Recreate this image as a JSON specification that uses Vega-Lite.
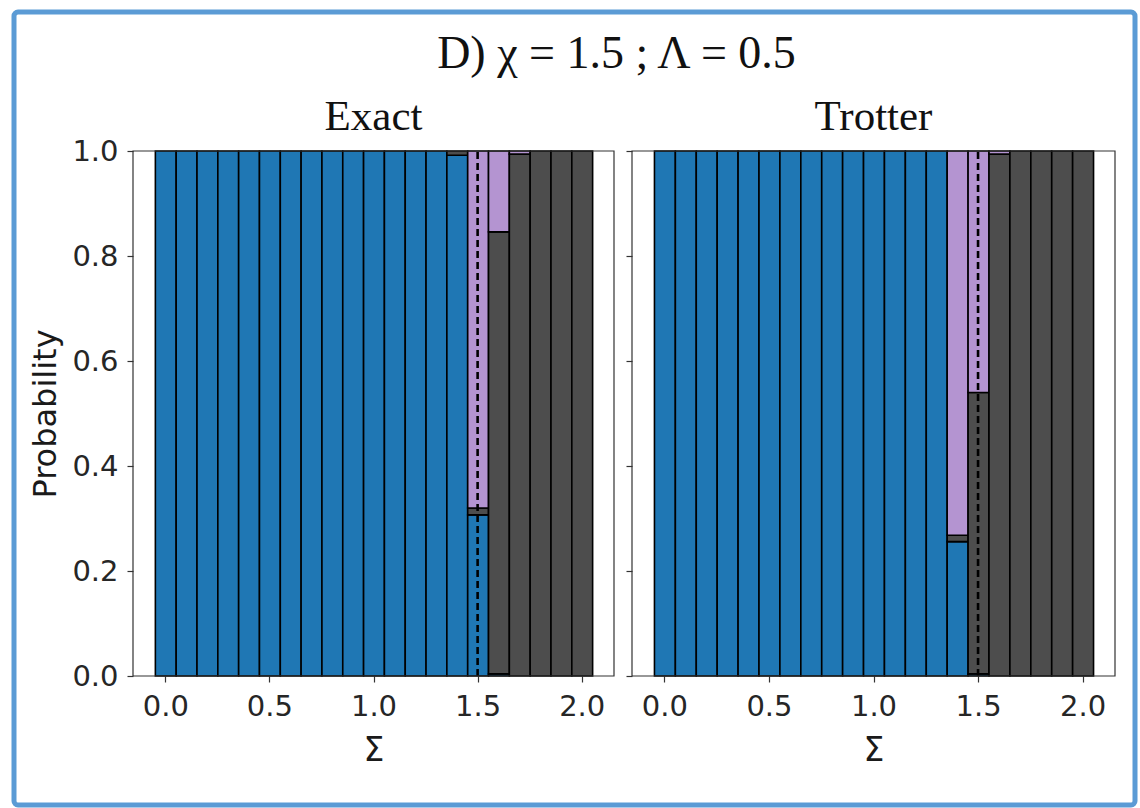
{
  "$schema": "https://vega.github.io/schema/vega-lite/v6.json",
  "background": "white",
  "autosize": {"type": "none"},
  "padding": {"left": 14, "top": 12, "right": 5, "bottom": 3},
  "width": 1121,
  "height": 793,
  "view": {"stroke": "#5b9bd5", "strokeWidth": 5, "cornerRadius": 4, "fill": "white"},
  "title": {"text": "D)  χ = 1.5 ; Λ = 0.5", "frame": "group", "anchor": "middle", "orient": "top", "offset": -102, "baseline": "alphabetic", "dx": 42, "font": "Liberation Serif", "fontSize": 46, "fontWeight": "normal", "color": "#111"},
  "datasets": {
    "exact": [
      {"sigma": 0.0, "state": "a", "p": 1}, {"sigma": 0.1, "state": "a", "p": 1}, {"sigma": 0.2, "state": "a", "p": 1},
      {"sigma": 0.3, "state": "a", "p": 1}, {"sigma": 0.4, "state": "a", "p": 1}, {"sigma": 0.5, "state": "a", "p": 1},
      {"sigma": 0.6, "state": "a", "p": 1}, {"sigma": 0.7, "state": "a", "p": 1}, {"sigma": 0.8, "state": "a", "p": 1},
      {"sigma": 0.9, "state": "a", "p": 1}, {"sigma": 1.0, "state": "a", "p": 1}, {"sigma": 1.1, "state": "a", "p": 1},
      {"sigma": 1.2, "state": "a", "p": 1}, {"sigma": 1.3, "state": "a", "p": 1},
      {"sigma": 1.4, "state": "a", "p": 0.992}, {"sigma": 1.4, "state": "b", "p": 0.008},
      {"sigma": 1.5, "state": "a", "p": 0.307}, {"sigma": 1.5, "state": "b", "p": 0.013}, {"sigma": 1.5, "state": "c", "p": 0.68},
      {"sigma": 1.6, "state": "a", "p": 0.004}, {"sigma": 1.6, "state": "b", "p": 0.842}, {"sigma": 1.6, "state": "c", "p": 0.154},
      {"sigma": 1.7, "state": "b", "p": 0.994}, {"sigma": 1.7, "state": "c", "p": 0.006},
      {"sigma": 1.8, "state": "b", "p": 1}, {"sigma": 1.9, "state": "b", "p": 1}, {"sigma": 2.0, "state": "b", "p": 1}
    ],
    "trotter": [
      {"sigma": 0.0, "state": "a", "p": 1}, {"sigma": 0.1, "state": "a", "p": 1}, {"sigma": 0.2, "state": "a", "p": 1},
      {"sigma": 0.3, "state": "a", "p": 1}, {"sigma": 0.4, "state": "a", "p": 1}, {"sigma": 0.5, "state": "a", "p": 1},
      {"sigma": 0.6, "state": "a", "p": 1}, {"sigma": 0.7, "state": "a", "p": 1}, {"sigma": 0.8, "state": "a", "p": 1},
      {"sigma": 0.9, "state": "a", "p": 1}, {"sigma": 1.0, "state": "a", "p": 1}, {"sigma": 1.1, "state": "a", "p": 1},
      {"sigma": 1.2, "state": "a", "p": 1}, {"sigma": 1.3, "state": "a", "p": 1},
      {"sigma": 1.4, "state": "a", "p": 0.256}, {"sigma": 1.4, "state": "b", "p": 0.012}, {"sigma": 1.4, "state": "c", "p": 0.732},
      {"sigma": 1.5, "state": "a", "p": 0.004}, {"sigma": 1.5, "state": "b", "p": 0.536}, {"sigma": 1.5, "state": "c", "p": 0.46},
      {"sigma": 1.6, "state": "b", "p": 0.994}, {"sigma": 1.6, "state": "c", "p": 0.006},
      {"sigma": 1.7, "state": "b", "p": 1}, {"sigma": 1.8, "state": "b", "p": 1}, {"sigma": 1.9, "state": "b", "p": 1}, {"sigma": 2.0, "state": "b", "p": 1}
    ],
    "chi": [{"chi": 1.5}],
    "titleExact": [{"panel": "Exact"}],
    "titleTrotter": [{"panel": "Trotter"}]
  },
  "config": {
    "axis": {
      "labelFont": "DejaVu Sans", "labelFontSize": 29, "labelColor": "#262626",
      "titleFont": "DejaVu Sans", "titleFontWeight": "normal", "titleColor": "#1a1a1a",
      "tickColor": "#333", "tickWidth": 1.2, "tickSize": 6, "domain": false, "grid": false,
      "labelFlush": false, "labelOverlap": false
    }
  },
  "resolve": {"scale": {"x": "independent", "y": "independent"}},
  "layer": [
    {
      "layer": [
        {
          "data": {"name": "exact"},
          "mark": {"type": "bar", "stroke": "black", "strokeWidth": 1.6, "binSpacing": 0},
          "encoding": {
            "x": {"field": "sigma", "type": "quantitative", "bin": {"step": 0.1, "anchor": -0.05, "extent": [-0.05, 2.05], "nice": false},
                  "scale": {"domain": [-0.155, 2.155], "range": [119, 600], "nice": false, "zero": false},
                  "axis": {"orient": "bottom", "offset": -129, "values": [0, 0.5, 1, 1.5, 2], "format": ".1f", "formatType": "number", "title": "Σ", "titleFontSize": 33, "titlePadding": 13, "labelPadding": 10}},
            "y": {"aggregate": "sum", "field": "p", "type": "quantitative", "stack": true,
                  "scale": {"domain": [0, 1], "range": [664, 139], "nice": false, "zero": false},
                  "axis": {"orient": "left", "offset": -119, "values": [0, 0.2, 0.4, 0.6, 0.8, 1], "format": ".1f", "title": "Probability", "titleFontSize": 32, "titlePadding": 9, "labelPadding": 9}},
            "color": {"field": "state", "type": "nominal", "scale": {"domain": ["a", "b", "c"], "range": ["#1f77b4", "#4d4d4d", "#b494d1"]}, "legend": null},
            "order": {"field": "state", "type": "ordinal", "sort": "ascending"}
          }
        },
        {
          "data": {"name": "chi"},
          "mark": {"type": "rule", "strokeDash": [7, 4], "strokeWidth": 2.6, "color": "black"},
          "encoding": {
            "x": {"field": "chi", "type": "quantitative"},
            "y": {"datum": 0, "type": "quantitative"},
            "y2": {"datum": 1}
          }
        },
        {
          "data": {"name": "chi"},
          "mark": {"type": "rect", "fill": null, "stroke": "#333", "strokeWidth": 1.2},
          "encoding": {
            "x": {"datum": -0.155, "type": "quantitative"},
            "x2": {"datum": 2.155},
            "y": {"datum": 0, "type": "quantitative"},
            "y2": {"datum": 1}
          }
        },
        {
          "data": {"name": "titleExact"},
          "mark": {"type": "text", "font": "Liberation Serif", "fontSize": 43, "color": "#111", "baseline": "alphabetic", "align": "center", "dy": -21},
          "encoding": {
            "x": {"datum": 1, "type": "quantitative"},
            "y": {"datum": 1, "type": "quantitative"},
            "text": {"field": "panel", "type": "nominal"}
          }
        }
      ]
    },
    {
      "layer": [
        {
          "data": {"name": "trotter"},
          "mark": {"type": "bar", "stroke": "black", "strokeWidth": 1.6, "binSpacing": 0},
          "encoding": {
            "x": {"field": "sigma", "type": "quantitative", "bin": {"step": 0.1, "anchor": -0.05, "extent": [-0.05, 2.05], "nice": false},
                  "scale": {"domain": [-0.155, 2.155], "range": [618, 1101], "nice": false, "zero": false},
                  "axis": {"orient": "bottom", "offset": -129, "values": [0, 0.5, 1, 1.5, 2], "format": ".1f", "formatType": "number", "title": "Σ", "titleFontSize": 33, "titlePadding": 13, "labelPadding": 10}},
            "y": {"aggregate": "sum", "field": "p", "type": "quantitative", "stack": true,
                  "scale": {"domain": [0, 1], "range": [664, 139], "nice": false, "zero": false},
                  "axis": {"orient": "left", "offset": -618, "values": [0, 0.2, 0.4, 0.6, 0.8, 1], "labels": false, "title": null}},
            "color": {"field": "state", "type": "nominal", "scale": {"domain": ["a", "b", "c"], "range": ["#1f77b4", "#4d4d4d", "#b494d1"]}, "legend": null},
            "order": {"field": "state", "type": "ordinal", "sort": "ascending"}
          }
        },
        {
          "data": {"name": "chi"},
          "mark": {"type": "rule", "strokeDash": [7, 4], "strokeWidth": 2.6, "color": "black"},
          "encoding": {
            "x": {"field": "chi", "type": "quantitative"},
            "y": {"datum": 0, "type": "quantitative"},
            "y2": {"datum": 1}
          }
        },
        {
          "data": {"name": "chi"},
          "mark": {"type": "rect", "fill": null, "stroke": "#333", "strokeWidth": 1.2},
          "encoding": {
            "x": {"datum": -0.155, "type": "quantitative"},
            "x2": {"datum": 2.155},
            "y": {"datum": 0, "type": "quantitative"},
            "y2": {"datum": 1}
          }
        },
        {
          "data": {"name": "titleTrotter"},
          "mark": {"type": "text", "font": "Liberation Serif", "fontSize": 43, "color": "#111", "baseline": "alphabetic", "align": "center", "dy": -21},
          "encoding": {
            "x": {"datum": 1, "type": "quantitative"},
            "y": {"datum": 1, "type": "quantitative"},
            "text": {"field": "panel", "type": "nominal"}
          }
        }
      ]
    }
  ]
}
